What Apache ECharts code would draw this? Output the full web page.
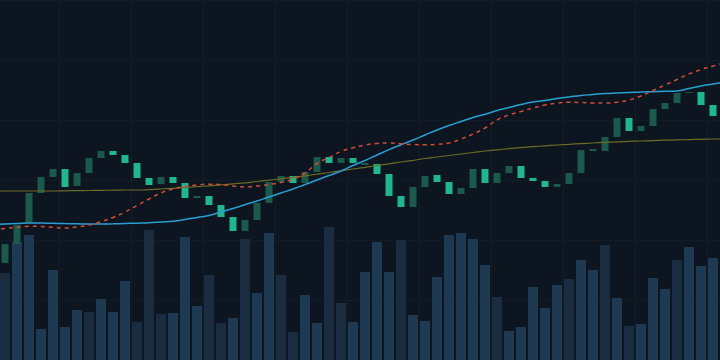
<!DOCTYPE html>
<html>
<head>
<meta charset="utf-8">
<style>
  html, body { margin: 0; padding: 0; background: #0d1520; overflow: hidden; width: 720px; height: 360px; }
  /* chart is a bit wider than the window so the averages run off both edges */
  #main { position: absolute; left: -13px; top: 0; width: 744px; height: 360px; }
</style>
<script src="https://cdn.jsdelivr.net/npm/echarts@6/dist/echarts.min.js"></script>
</head>
<body>
<div id="main"></div>
<script>
// 60 sessions on screen, plus one off-screen session each side for the averages
var days = [];
for (var d = 0; d < 62; d++) days.push('D' + d);

// candle bodies (open / close), one per visible session
var opens = [15.7, 17.6, 19.7, 22.7, 24.3, 25.1, 23.4, 24.7, 26.2, 26.9,
             26.5, 25.7, 24.2, 23.6, 24.3, 23.7, 22.2, 22.4, 21.5, 20.3,
             18.9, 20.0, 21.7, 23.8, 24.4, 23.7, 24.8, 26.3, 25.7, 26.2,
             25.5, 25.6, 24.6, 22.4, 21.3, 23.3, 24.5, 23.8, 22.6, 23.2,
             25.1, 23.7, 24.7, 25.4, 24.2, 23.9, 23.3, 23.6, 24.7, 26.9,
             26.9, 28.3, 30.2, 28.9, 29.4, 31.1, 31.7, 32.7, 32.8, 31.5];
var closes = [17.6, 19.5, 22.7, 24.3, 25.1, 23.3, 24.7, 26.2, 26.9, 26.5,
              25.7, 24.2, 23.5, 24.3, 23.7, 22.2, 22.4, 21.5, 20.3, 18.9,
              20.0, 21.7, 23.8, 24.4, 23.7, 24.8, 26.3, 25.7, 26.2, 25.7,
              25.7, 24.6, 22.4, 21.3, 23.3, 24.4, 23.8, 22.6, 23.2, 25.1,
              23.7, 24.7, 25.4, 24.2, 23.9, 23.3, 23.6, 24.7, 27.0, 27.1,
              28.3, 30.2, 28.9, 29.4, 31.1, 31.7, 32.7, 32.8, 31.5, 30.4];

// traded volume, and whether the session was buyer (1) or seller (0) led
var volume = [870, 1180, 1250, 310, 900, 330, 500, 480, 610, 480,
              790, 380, 1300, 460, 470, 1230, 540, 850, 370, 420,
              1210, 670, 1270, 850, 280, 650, 370, 1330, 570, 380,
              880, 1180, 880, 1200, 450, 390, 830, 1250, 1270, 1210,
              950, 630, 290, 330, 730, 520, 750, 810, 1000, 900,
              1150, 620, 340, 360, 820, 710, 1000, 1130, 940, 1020];
var volumeSide = [0, 1, 1, 1, 1, 1, 1, 0, 1, 1, 1, 0, 0, 0, 1, 1, 1, 0, 0, 1,
                  0, 1, 1, 0, 0, 1, 1, 0, 0, 1, 1, 1, 1, 0, 1, 1, 1, 1, 1, 1,
                  1, 0, 1, 1, 1, 1, 1, 0, 1, 1, 0, 1, 0, 1, 1, 1, 0, 1, 1, 1];

// moving averages (62 points incl. the off-screen ends)
var maFast = [19.0, 19.15, 19.27, 19.37, 19.35, 19.27, 19.2, 19.3, 19.5, 19.83,
              20.25, 20.8, 21.45, 22.1, 22.7, 23.1, 23.35, 23.5, 23.58, 23.53,
              23.4, 23.3, 23.4, 23.55, 23.75, 24.1, 24.7, 25.65, 26.25, 26.85,
              27.22, 27.5, 27.65, 27.7, 27.62, 27.55, 27.52, 27.57, 27.7, 28.1,
              28.6, 29.2, 30.0, 30.5, 30.85, 31.2, 31.5, 31.68, 31.77, 31.75,
              31.7, 31.7, 31.78, 32.0, 32.4, 32.95, 33.5, 34.05, 34.6, 35.05,
              35.4, 35.7];
var maMid = [19.55, 19.6, 19.65, 19.7, 19.7, 19.67, 19.64, 19.62, 19.6, 19.6,
             19.62, 19.65, 19.68, 19.72, 19.8, 19.88, 20.05, 20.25, 20.45, 20.8,
             21.15, 21.53, 21.9, 22.3, 22.7, 23.1, 23.55, 24.0, 24.45, 24.9,
             25.45, 25.95, 26.5, 27.04, 27.53, 28.0, 28.5, 29.0, 29.45, 29.85,
             30.25, 30.58, 30.95, 31.25, 31.55, 31.8, 31.95, 32.15, 32.3, 32.45,
             32.55, 32.65, 32.7, 32.75, 32.8, 32.83, 32.87, 32.9, 33.15, 33.4,
             33.6, 33.8];
var maSlow = [22.88, 22.9, 22.9, 22.9, 22.9, 22.9, 22.92, 22.94, 22.95, 22.97,
              22.98, 23.0, 23.0, 23.04, 23.1, 23.17, 23.25, 23.33, 23.42, 23.52,
              23.62, 23.72, 23.85, 23.98, 24.12, 24.27, 24.42, 24.58, 24.75, 24.92,
              25.1, 25.27, 25.45, 25.62, 25.8, 25.97, 26.15, 26.3, 26.45, 26.6,
              26.75, 26.9, 27.02, 27.13, 27.23, 27.33, 27.42, 27.5, 27.57, 27.64,
              27.7, 27.76, 27.81, 27.86, 27.9, 27.94, 27.98, 28.01, 28.04, 28.07,
              28.1, 28.12];

var candleData = ['-'];
var volData = ['-'];
for (var i = 0; i < opens.length; i++) {
    var o = opens[i], c = closes[i];
    candleData.push([o, c, Math.min(o, c), Math.max(o, c)]);
    volData.push({
        value: volume[i],
        itemStyle: { color: volumeSide[i] ? '#1e3a53' : '#1a2c3f' }
    });
}
candleData.push('-');
volData.push('-');

var myChart = echarts.init(document.getElementById('main'));

var option = {
    backgroundColor: '#0d1520',
    animation: false,
    grid: { left: 0, right: 0, top: 0, bottom: 0 },
    xAxis: {
        type: 'category',
        data: days,
        boundaryGap: true,
        axisLine: { show: false },
        axisTick: { show: false },
        axisLabel: { show: false },
        splitLine: { show: true, interval: 5, lineStyle: { color: '#121c27', width: 1 } }
    },
    yAxis: [{
        type: 'value',
        min: 6,
        max: 42,
        interval: 6,
        axisLine: { show: false },
        axisTick: { show: false },
        axisLabel: { show: false },
        splitLine: { show: true, lineStyle: { color: '#121c27', width: 1 } }
    }, {
        type: 'value',
        min: 0,
        max: 3600,
        axisLine: { show: false },
        axisTick: { show: false },
        axisLabel: { show: false },
        splitLine: { show: false }
    }],
    series: [{
        name: 'Volume',
        type: 'bar',
        yAxisIndex: 1,
        data: volData,
        barWidth: 10
    }, {
        name: 'Price',
        type: 'candlestick',
        data: candleData,
        barWidth: 7,
        itemStyle: {
            color: '#1b5a4b',
            color0: '#20b68e',
            borderColor: '#1b5a4b',
            borderColor0: '#20b68e',
            borderWidth: 0
        }
    }, {
        name: 'MA slow',
        type: 'line',
        data: maSlow,
        smooth: true,
        symbol: 'none',
        lineStyle: { color: '#6c6b26', width: 1.2 }
    }, {
        name: 'MA mid',
        type: 'line',
        data: maMid,
        smooth: true,
        symbol: 'none',
        lineStyle: { color: '#2a9fd3', width: 1.5 }
    }, {
        name: 'MA fast',
        type: 'line',
        data: maFast,
        smooth: true,
        symbol: 'none',
        lineStyle: { color: '#d44c34', width: 1.5, type: [4, 4] }
    }]
};

myChart.setOption(option);
</script>
</body>
</html>
